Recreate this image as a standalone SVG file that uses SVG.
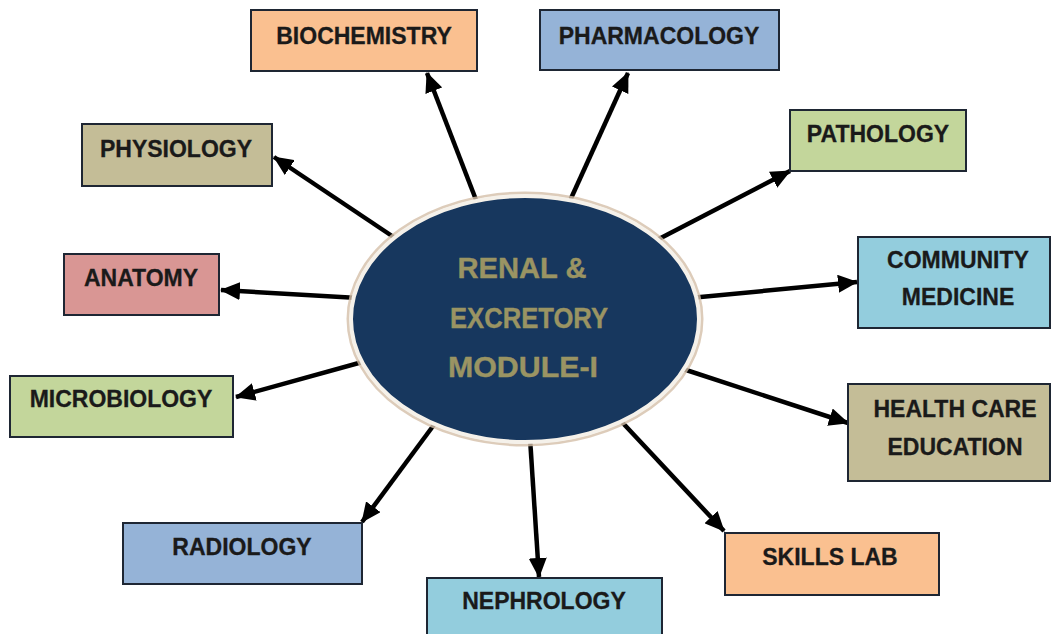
<svg xmlns="http://www.w3.org/2000/svg" width="1052" height="634" viewBox="0 0 1052 634">
  <style>
    .box { stroke: #1e2633; stroke-width: 2; }
    .lbl { font-family: "Liberation Sans", Arial, sans-serif; font-weight: bold; font-size: 23px; fill: #1a1a1a; stroke: #1a1a1a; stroke-width: 0.3; text-anchor: middle; }
    .hub { font-family: "Liberation Sans", Arial, sans-serif; font-weight: bold; font-size: 29px; fill: #9a9463; stroke: #9a9463; stroke-width: 0.4; text-anchor: middle; }
    .arrow { stroke: #000; stroke-width: 4.5; fill: none; marker-end: url(#head); }
  </style>
  <defs>
    <marker id="head" markerUnits="userSpaceOnUse" viewBox="0 0 20 18" refX="19" refY="9" markerWidth="20" markerHeight="18" orient="auto">
      <path d="M0,0 L20,9 L0,18 Z" fill="#000"/>
    </marker>
  </defs>

  <rect width="1052" height="634" fill="#ffffff"/>

  <!-- connectors: from the hub out to each subject -->
  <g id="connectors">
    <line class="arrow" x1="478" y1="205" x2="427" y2="73"/>
    <line class="arrow" x1="568" y1="205" x2="628" y2="73"/>
    <line class="arrow" x1="398" y1="240" x2="274" y2="157"/>
    <line class="arrow" x1="655" y1="241" x2="790" y2="171"/>
    <line class="arrow" x1="358" y1="298" x2="221" y2="290"/>
    <line class="arrow" x1="690" y1="298" x2="857" y2="282"/>
    <line class="arrow" x1="366" y1="361" x2="236" y2="397"/>
    <line class="arrow" x1="680" y1="368" x2="848" y2="423"/>
    <line class="arrow" x1="439" y1="418" x2="362" y2="522"/>
    <line class="arrow" x1="530" y1="438" x2="539" y2="577"/>
    <line class="arrow" x1="620" y1="420" x2="724" y2="531"/>
  </g>

  <!-- central module -->
  <g id="hub">
    <ellipse cx="525" cy="319" rx="177" ry="126" fill="none" stroke="#d4bfa9" stroke-width="3" opacity="0.8"/>
    <ellipse cx="525" cy="319" rx="174" ry="123" fill="#17375e" stroke="#f5f1ea" stroke-width="4"/>
    <text class="hub" x="522" y="278" textLength="129" lengthAdjust="spacingAndGlyphs">RENAL &amp;</text>
    <text class="hub" x="529" y="328" textLength="158" lengthAdjust="spacingAndGlyphs">EXCRETORY</text>
    <text class="hub" x="523" y="377" textLength="150" lengthAdjust="spacingAndGlyphs">MODULE-I</text>
  </g>

  <g id="biochemistry">
    <rect class="box" x="251" y="10" width="226" height="61" fill="#fac090"/>
    <text class="lbl" x="364" y="44">BIOCHEMISTRY</text>
  </g>
  <g id="pharmacology">
    <rect class="box" x="540" y="10" width="239" height="60" fill="#95b3d7"/>
    <text class="lbl" x="659" y="44">PHARMACOLOGY</text>
  </g>
  <g id="physiology">
    <rect class="box" x="82" y="124" width="190" height="62" fill="#c4bd97"/>
    <text class="lbl" x="176" y="157">PHYSIOLOGY</text>
  </g>
  <g id="pathology">
    <rect class="box" x="790" y="110" width="176" height="61" fill="#c3d69b"/>
    <text class="lbl" x="878" y="142">PATHOLOGY</text>
  </g>
  <g id="anatomy">
    <rect class="box" x="64" y="254" width="155" height="61" fill="#d99694"/>
    <text class="lbl" x="141" y="286">ANATOMY</text>
  </g>
  <g id="community-medicine">
    <rect class="box" x="858" y="237" width="192" height="91" fill="#93cddd"/>
    <text class="lbl" x="958" y="268">COMMUNITY</text>
    <text class="lbl" x="958" y="305">MEDICINE</text>
  </g>
  <g id="microbiology">
    <rect class="box" x="10" y="376" width="223" height="61" fill="#c3d69b"/>
    <text class="lbl" x="121" y="407">MICROBIOLOGY</text>
  </g>
  <g id="health-care-education">
    <rect class="box" x="848" y="384" width="202" height="97" fill="#c4bd97"/>
    <text class="lbl" x="955" y="417">HEALTH CARE</text>
    <text class="lbl" x="955" y="455">EDUCATION</text>
  </g>
  <g id="radiology">
    <rect class="box" x="123" y="523" width="239" height="61" fill="#95b3d7"/>
    <text class="lbl" x="242" y="555">RADIOLOGY</text>
  </g>
  <g id="nephrology">
    <rect class="box" x="427" y="578" width="235" height="70" fill="#93cddd"/>
    <text class="lbl" x="544" y="609">NEPHROLOGY</text>
  </g>
  <g id="skills-lab">
    <rect class="box" x="725" y="533" width="214" height="62" fill="#fac090"/>
    <text class="lbl" x="830" y="565">SKILLS LAB</text>
  </g>
</svg>
